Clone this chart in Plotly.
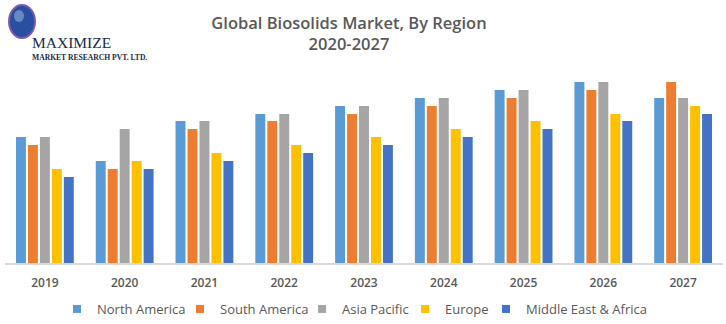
import plotly.graph_objects as go

years = ["2019", "2020", "2021", "2022", "2023", "2024", "2025", "2026", "2027"]
regions = ["North America", "South America", "Asia Pacific", "Europe", "Middle East & Africa"]
north_america = [12.6, 10.2, 14.2, 14.9, 15.7, 16.5, 17.3, 18.1, 16.5]
south_america = [11.8, 9.4, 13.4, 14.2, 14.9, 15.7, 16.5, 17.3, 18.1]
asia_pacific = [12.6, 13.4, 14.2, 14.9, 15.7, 16.5, 17.3, 18.1, 16.5]
europe = [9.4, 10.2, 11.0, 11.8, 12.6, 13.4, 14.2, 14.9, 15.7]
mea = [8.6, 9.4, 10.2, 11.0, 11.8, 12.6, 13.4, 14.2, 14.9]
colors = ["#5B9BD5", "#ED7D31", "#A5A5A5", "#FFC000", "#4472C4"]
series = [north_america, south_america, asia_pacific, europe, mea]

GRAY = "#595959"
L, R, T, B = 5, 3, 70, 61
PW, PH = 726 - L - R, 324 - T - B

def px(x):
    return (x - L) / PW

def py(y):
    return (324 - B - y) / PH

fig = go.Figure()
for name, vals, col in zip(regions, series, colors):
    fig.add_trace(go.Bar(x=years, y=vals, name=name, marker_color=col,
                         marker_line_width=0, showlegend=False))

legend_names = ["legend", "legend2", "legend3", "legend4", "legend5"]
text_starts = [99, 222, 344, 447, 528]
for i, (name, col) in enumerate(zip(regions, colors)):
    fig.add_trace(go.Scatter(x=[None], y=[None], mode="markers", name=name,
                             legend=legend_names[i],
                             marker=dict(symbol="square", size=8, color=col)))

layout_legends = {}
for i, ln in enumerate(legend_names):
    layout_legends[ln] = dict(
        orientation="h", x=px(text_starts[i] - 42), xanchor="left",
        y=0, yref="container", yanchor="bottom", itemwidth=30,
        font=dict(family="Open Sans", size=13, color=GRAY),
        bgcolor="rgba(0,0,0,0)", borderwidth=0)

fig.update_layout(
    width=726, height=324,
    margin=dict(l=L, r=R, t=T, b=B, autoexpand=False),
    paper_bgcolor="white", plot_bgcolor="white",
    barmode="group", bargap=0.25, bargroupgap=0.17,
    title=dict(text="Global Biosolids Market, By Region<br>2020-2027",
               x=349/726, xanchor="center", xref="container",
               y=1 - 29/324, yanchor="middle", yref="container",
               font=dict(family="Open Sans", size=16.5, color=GRAY, weight=600)),
    xaxis=dict(showline=True, linecolor="#D9D9D9", linewidth=1.5,
               ticks="", ticklabelstandoff=8, showgrid=False, automargin=False,
               tickfont=dict(family="Open Sans", size=12, color=GRAY, weight=600)),
    yaxis=dict(range=[0, 19.3], visible=False, showgrid=False),
    font=dict(family="Open Sans"),
    **layout_legends,
)

# logo (decorative)
fig.add_shape(type="circle", xref="paper", yref="paper",
              x0=px(9), x1=px(35), y0=py(38), y1=py(5),
              fillcolor="#2A4FA0", line=dict(color="#7E5BB0", width=2), layer="above")
fig.add_shape(type="circle", xref="paper", yref="paper",
              x0=px(14), x1=px(24), y0=py(22), y1=py(10),
              fillcolor="#8FB0E0", line=dict(width=0), opacity=0.6, layer="above")
fig.add_annotation(text="MAXIMIZE", xref="paper", yref="paper",
                   x=px(31), y=py(52), xanchor="left", yanchor="bottom",
                   borderpad=0, showarrow=False,
                   font=dict(family="Liberation Serif", size=15.5, color="#1A2A4A"))
fig.add_annotation(text="MARKET RESEARCH PVT. LTD.", xref="paper", yref="paper",
                   x=px(31), y=py(51.5), xanchor="left", yanchor="top",
                   borderpad=0, showarrow=False,
                   font=dict(family="Liberation Serif", size=7.6, color="#1A2A4A", weight="bold"))

fig.write_html("out.html")
